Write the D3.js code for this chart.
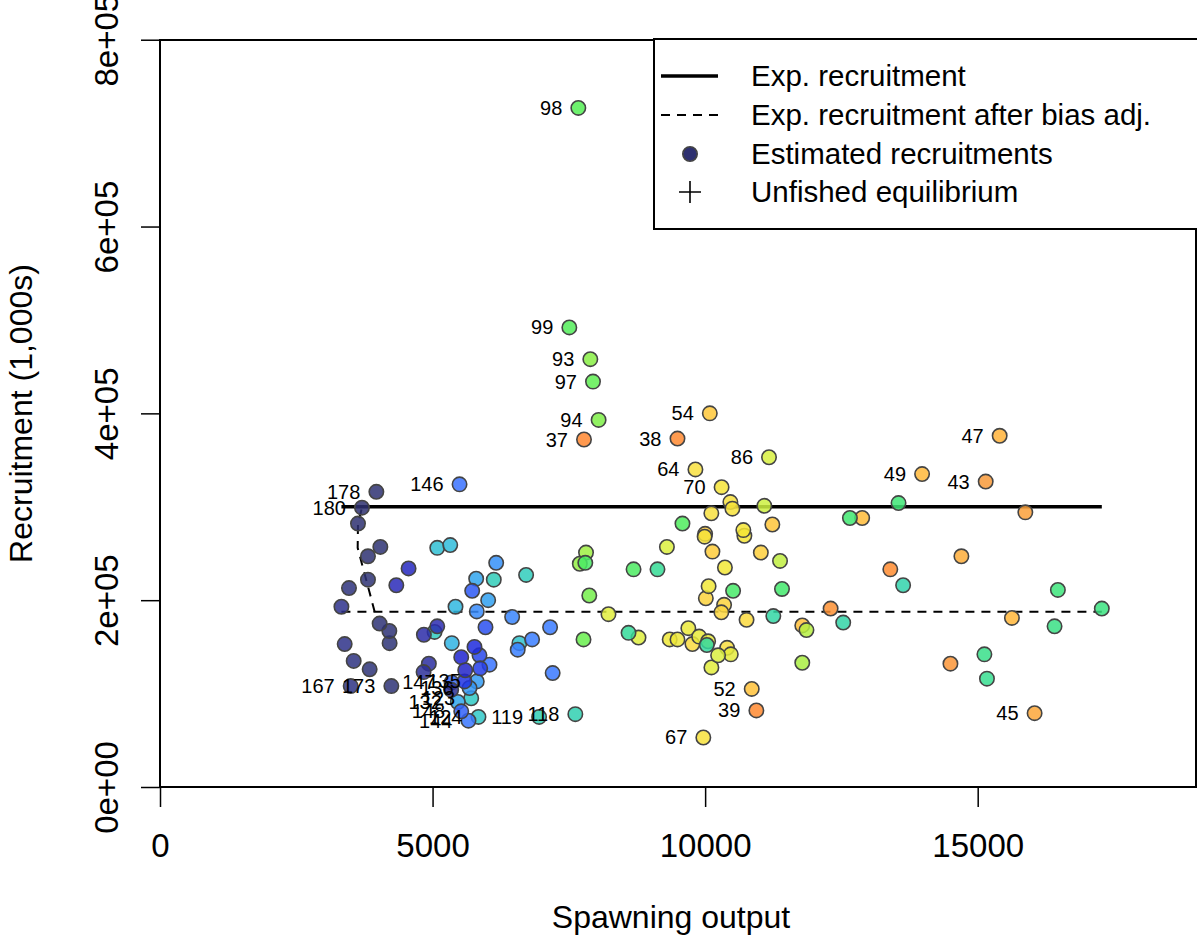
<!DOCTYPE html>
<html><head><meta charset="utf-8">
<script src="https://cdn.jsdelivr.net/npm/d3@7"></script>
<style>
body{margin:0;background:#fff}
svg{display:block}
text{font-family:"Liberation Sans", Arial, Helvetica, sans-serif;fill:#000}
</style>
</head><body>
<svg id="chart" width="1197" height="935"></svg>
<script>
// ---- data ----
const years = [37,38,39,40,41,42,43,44,45,46,47,48,49,50,51,52,53,54,55,56,57,58,59,60,61,62,63,
  64,65,66,67,68,69,70,71,72,73,74,75,76,77,78,79,80,81,
  82,83,84,85,86,87,88,89,90,91,92,93,94,95,96,97,98,99,
  100,101,102,103,104,105,106,107,108,109,110,111,
  112,113,114,115,116,117,
  118,119,120,121,122,123,124,125,
  126,127,128,129,132,133,134,135,136,
  137,138,139,140,141,142,143,144,145,146,147,148,
  149,150,151,152,153,154,156,157,
  158,159,160,161,162,163,164,
  165,166,167,168,169,170,171,172,173,174,175,176,177,178,179,180];
const spawn = [7778,9493,10940,13397,12302,14500,15147,15874,16044,14701,15403,15628,13980,12881,11782,10855,11233,10086,10000,10134,11022,10013,10348,10298,10760,9767,10403,
  9822,10114,10463,9967,10500,9991,10302,10720,10701,10363,10064,9350,9493,9692,9890,10055,10471,10115,
  8227,8778,9299,10238,11172,11086,11374,11859,11782,7815,7701,7894,8046,7875,7769,7943,7674,7509,
  9584,8687,7802,10513,11410,12656,13548,16471,17277,16410,15123,15170,
  9126,8595,10031,11251,12533,13632,
  7619,6954,6123,6716,5037,5709,5842,6593,
  5086,5324,5421,5353,5463,5800,6020,5811,5678,
  6167,5811,6460,6562,6826,7156,7203,5659,6044,5495,5348,5526,
  5727,5971,5861,5874,5586,5769,5526,5599,
  4560,4335,5086,4841,4932,4835,5342,
  3328,3388,3498,3553,3467,3846,4212,4207,4244,4029,3815,4042,3815,3969,3632,3705];
const recr = [372000,373000,82000,233000,191000,132000,327000,294000,79000,247000,376000,181000,335000,288000,173000,105000,281000,400000,271000,252000,251000,202000,195000,187000,179000,153000,149000,
  340000,293000,305000,53000,298000,268000,321000,269000,275000,235000,215000,158000,158000,170000,161000,156000,142000,128000,
  185000,160000,257000,141000,353000,301000,242000,168000,133000,251000,239000,458000,393000,205000,158000,434000,727000,492000,
  282000,233000,240000,210000,212000,288000,304000,211000,191000,172000,142000,116000,
  233000,165000,152000,183000,176000,216000,
  78000,75000,222000,227000,166000,95000,75000,154000,
  256000,259000,193000,154000,91000,223000,200000,113000,106000,
  240000,188000,182000,147000,158000,171000,122000,71000,131000,324000,112000,81000,
  210000,171000,141000,127000,113000,150000,139000,125000,
  234000,216000,172000,163000,132000,123000,104000,
  193000,153000,108000,135000,213000,126000,154000,167000,108000,175000,222000,257000,247000,316000,282000,299000];
const labelledYears = [37,38,39,43,45,47,49,52,54,64,67,70,86,93,94,97,98,99,
  118,119,123,124,132,135,136,144,146,147,148,167,173,178,180];
// expected recruitment (flat) and bias-adjusted expectation
const expR = 300000;
const biasAdjR = 187500;
const rampSB = [3938,3846,3626,3632,3705];
const rampR = [187500,208000,256000,282000,299000];
// year -> colour key
const colYears = [36,40,43,47,54,64,72,86,93,98,105,112,118,124,128,134,140,146,150,155,159,164,170,180];
const colHex = ["#FF8530","#FF8C30","#F89A3A","#FFB33A","#FFC83A","#F8E040","#F5E535","#D8F040","#88EE44","#55EE55","#40E870","#35DC95","#30D0B0","#30C8C8","#30B8E0","#30A0F0","#3A80FF","#3A72FF","#2A50F0","#1A20D8","#2A2AB8","#2E3090","#2E3478","#2E3070"];
const xTicks = [0,5000,10000,15000];
const yTicks = [0,200000,400000,600000,800000];
const legendLabels = ["Exp. recruitment","Exp. recruitment after bias adj.","Estimated recruitments","Unfished equilibrium"];

// ---- layout ----
const svg = d3.select("#chart");
const L = 160, T = 40, Rr = 1196, B = 787;
const x = d3.scaleLinear().domain([0, 1.1 * d3.max(spawn)]).range([L, Rr]);
const y = d3.scaleLinear().domain([0, 1.1 * d3.max(recr)]).range([B, T]);
const col = d3.scaleLinear().domain(colYears).range(colHex).interpolate(d3.interpolateRgb).clamp(true);

const pts = years.map((yr, i) => ({yr, sb: spawn[i], r: recr[i]}));
const sbExt = d3.extent(spawn);

const line = d3.line().x(d => x(d[0])).y(d => y(d[1]));

// expected recruitment
svg.append("path").attr("d", line([[sbExt[0], expR], [sbExt[1], expR]]))
  .attr("fill", "none").attr("stroke", "#000").attr("stroke-width", 3.5);
// bias adjusted
svg.append("path").attr("d", line([[sbExt[0], biasAdjR], [sbExt[1], biasAdjR]]))
  .attr("fill", "none").attr("stroke", "#000").attr("stroke-width", 2).attr("stroke-dasharray", "9,7");
svg.append("path").attr("d", line(rampSB.map((s, i) => [s, rampR[i]])))
  .attr("fill", "none").attr("stroke", "#000").attr("stroke-width", 2).attr("stroke-dasharray", "9,7");

// points
svg.append("g").selectAll("circle").data(pts).join("circle")
  .attr("cx", d => x(d.sb)).attr("cy", d => y(d.r)).attr("r", 7.2)
  .attr("fill", d => col(d.yr)).attr("fill-opacity", 0.85)
  .attr("stroke", "#444").attr("stroke-width", 1.6);

// point labels
svg.append("g").selectAll("text").data(pts.filter(d => labelledYears.includes(d.yr))).join("text")
  .attr("x", d => x(d.sb) - 16).attr("y", d => y(d.r) + 7)
  .attr("text-anchor", "end").attr("font-size", 20).text(d => d.yr);

// box
svg.append("rect").attr("x", L).attr("y", T).attr("width", Rr - L).attr("height", B - T)
  .attr("fill", "none").attr("stroke", "#000").attr("stroke-width", 2);

// x axis
const xa = svg.append("g").attr("transform", `translate(0,${B})`)
  .call(d3.axisBottom(x).tickValues(xTicks).tickFormat(d3.format("d")).tickSize(20).tickPadding(0));
xa.select(".domain").attr("d", `M${x(0)},0H${x(15000)}`).attr("stroke-width", 2);
xa.selectAll(".tick line").attr("stroke-width", 1.5);
xa.selectAll("text").attr("font-size", 33).attr("dy", null).attr("y", 70).attr("font-family", null);

// y axis
const fmtY = v => { if (v === 0) return "0e+00"; const e = Math.floor(Math.log10(v)); return (v / Math.pow(10, e)) + "e+" + String(e).padStart(2, "0"); };
const ya = svg.append("g").attr("transform", `translate(${L},0)`)
  .call(d3.axisLeft(y).tickValues(yTicks).tickFormat(fmtY).tickSize(19).tickPadding(0));
ya.select(".domain").attr("d", `M0,${y(0)}V${y(800000)}`).attr("stroke-width", 2);
ya.selectAll(".tick line").attr("stroke-width", 1.5);
ya.selectAll("text").attr("font-size", 33).attr("font-family", null)
  .attr("x", null).attr("dy", null).attr("text-anchor", "middle")
  .attr("transform", "translate(-42,0) rotate(-90)");

// axis titles
svg.append("text").attr("x", (L + Rr) / 2 - 7).attr("y", 928).attr("text-anchor", "middle")
  .attr("font-size", 32).text("Spawning output");
svg.append("text").attr("transform", `translate(32,${(T + B) / 2}) rotate(-90)`).attr("text-anchor", "middle")
  .attr("font-size", 32).text("Recruitment (1,000s)");

// legend
const lg = svg.append("g");
lg.append("rect").attr("x", 654).attr("y", 39).attr("width", 600).attr("height", 190)
  .attr("fill", "#fff").attr("stroke", "#000").attr("stroke-width", 2);
const rowY = [76, 115, 154, 192];
lg.append("line").attr("x1", 661).attr("x2", 718).attr("y1", rowY[0]).attr("y2", rowY[0]).attr("stroke", "#000").attr("stroke-width", 3.5);
lg.append("line").attr("x1", 661).attr("x2", 718).attr("y1", rowY[1]).attr("y2", rowY[1]).attr("stroke", "#000").attr("stroke-width", 2).attr("stroke-dasharray", "9,7");
lg.append("circle").attr("cx", 690).attr("cy", rowY[2]).attr("r", 7.2).attr("fill", col(180)).attr("stroke", "#444").attr("stroke-width", 1.6);
lg.append("path").attr("d", `M679,${rowY[3]}h22M690,${rowY[3] - 11}v22`).attr("stroke", "#000").attr("stroke-width", 1.6);
lg.selectAll("text.lt").data(legendLabels).join("text").attr("class", "lt")
  .attr("x", 751).attr("y", (d, i) => rowY[i] + 10).attr("font-size", 29.5).text(d => d);
</script>
</body></html>
